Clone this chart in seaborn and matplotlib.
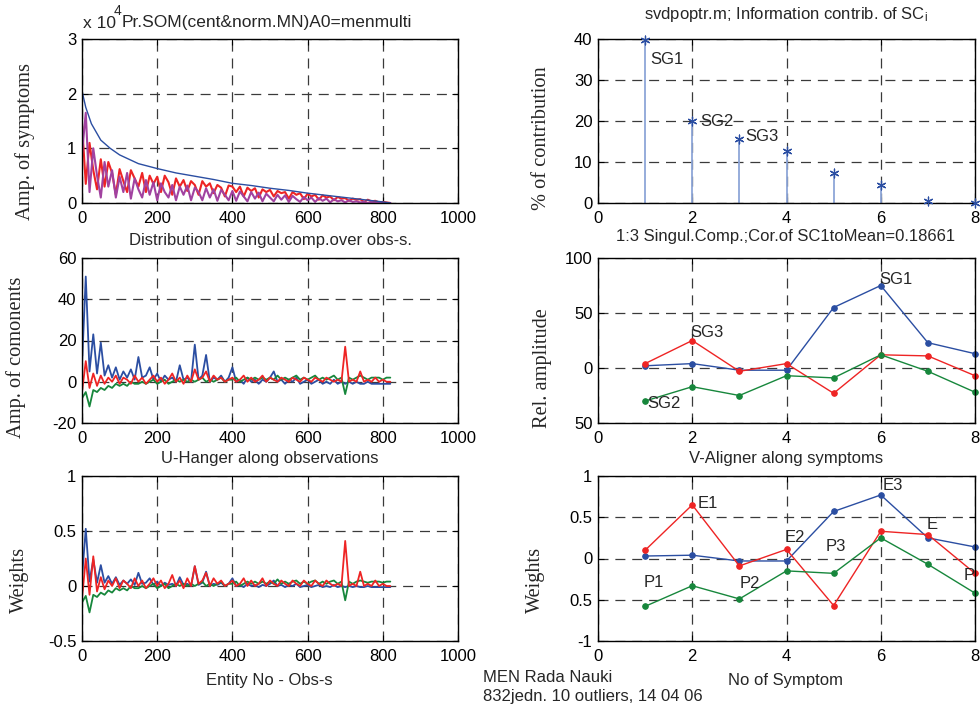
import numpy as np
import pandas as pd
import matplotlib
matplotlib.use("Agg")
import matplotlib.pyplot as plt
import seaborn as sns

sns.set_style("white")
plt.rcParams['font.family'] = ['Liberation Sans', 'DejaVu Sans']
plt.rcParams['mathtext.fontset'] = 'custom'
plt.rcParams['mathtext.rm'] = 'Liberation Sans'
plt.rcParams['mathtext.it'] = 'Liberation Sans:italic'

# ---------------- data ----------------
obs = list(range(0, 830, 10))  # observation index (83 points)

env_x = [0, 5, 10, 25, 50, 75, 100, 150, 200, 250, 300, 350, 400, 450, 500, 550, 600, 650, 700, 750, 800, 820]
env_y = [2.05, 1.9, 1.75, 1.45, 1.15, 1.0, 0.88, 0.72, 0.63, 0.55, 0.49, 0.43, 0.36, 0.32, 0.27, 0.23, 0.18, 0.14, 0.1, 0.06, 0.02, 0.0]

sym_red = [1.45, 0.35, 1.1, 0.6, 0.25, 0.8, 0.3, 0.75, 0.55, 0.15, 0.62, 0.4, 0.2, 0.6, 0.45, 0.3, 0.55, 0.2, 0.5, 0.35,
           0.48, 0.2, 0.5, 0.38, 0.15, 0.45, 0.3, 0.42, 0.22, 0.4, 0.33, 0.15, 0.4, 0.3, 0.36, 0.18, 0.33, 0.28, 0.12, 0.32,
           0.3, 0.2, 0.3, 0.12, 0.28, 0.22, 0.27, 0.1, 0.25, 0.2, 0.24, 0.12, 0.22, 0.18, 0.2, 0.08, 0.2, 0.15, 0.18, 0.07,
           0.17, 0.12, 0.15, 0.06, 0.14, 0.1, 0.12, 0.05, 0.11, 0.08, 0.09, 0.04, 0.08, 0.06, 0.07, 0.02, 0.06, 0.03, 0.04, 0.01,
           0.02, 0.01, 0.0]
sym_purple = [0.9, 1.65, 0.2, 1.0, 0.5, 0.1, 0.75, 0.3, 0.6, 0.1, 0.48, 0.2, 0.55, 0.08, 0.45, 0.25, 0.1, 0.42, 0.15, 0.38,
              0.05, 0.36, 0.2, 0.1, 0.33, 0.05, 0.3, 0.15, 0.32, 0.05, 0.28, 0.2, 0.05, 0.27, 0.1, 0.25, 0.04, 0.24, 0.15, 0.05,
              0.22, 0.04, 0.21, 0.12, 0.03, 0.2, 0.08, 0.19, 0.03, 0.17, 0.1, 0.03, 0.15, 0.06, 0.14, 0.02, 0.13, 0.07, 0.02, 0.11,
              0.05, 0.1, 0.02, 0.09, 0.04, 0.08, 0.01, 0.07, 0.03, 0.05, 0.01, 0.05, 0.02, 0.03, 0.01, 0.02, 0.0, 0.02, 0.0, 0.01,
              0.0, 0.0, 0.0]

amp_blue = [8, 51, 5, 23, 4, 19, 3, 8, 2, 7, 1, 5, 2, 6, 1, 12, 2, 3, 7, 1,
            4, 0, 3, 1, 2, 0, 8, 1, 2, 0, 18, 1, 3, 13, 0, 2, 1, 3, 0, 2,
            7, 0, 1, -1, 2, 0, 1, -1, 1, 0, 2, 5, 0, 1, -1, 1, 0, 2, -1, 0,
            1, -1, 0, 1, -1, 0, -1, 1, -1, 0, -1, 0, -1, 0, -1, -1, 0, -1, -1, -1,
            -1, -1, -1]
amp_green = [-8, -5, -12, -4, -5, -3, -4, -2, -3, -1, -2, -1, -2, 0, -1, -1, 0, -1, 0, 1,
             -1, 0, 1, -1, 0, 1, 0, 1, 0, 1, 0, 1, 2, 0, 1, 0, 1, 2, 0, 1,
             1, 2, 0, 1, 2, 1, 2, 1, 2, 1, 2, 1, 3, 1, 2, 1, 2, 3, 1, 2,
             1, 2, 3, 1, 2, 1, 2, 3, 1, 2, -6, 2, 1, 2, 3, 2, 1, 2, 2, 2,
             1, 2, 2]
amp_red = [-5, 10, -3, 4, -2, 3, -1, 2, 0, 3, -1, 2, 1, -1, 3, 0, 2, -1, 1, 3,
           0, 2, -1, 1, 4, 0, 2, -1, 3, 0, 6, 1, 2, 5, 0, 3, 1, 2, 0, 1,
           2, 0, 1, 3, 0, 2, 0, 1, 3, 0, 2, 1, 0, 2, 1, 0, 2, 1, 0, 2,
           1, 0, 2, 1, 0, 2, 1, 0, 1, 0, 17, 0, 1, 0, 5, 0, 1, 0, 2, 0,
           1, 0, 0]

w_blue = [0.08, 0.52, 0.04, 0.24, 0.03, 0.19, 0.03, 0.09, 0.02, 0.08, 0.01, 0.05, 0.02, 0.06, 0.01, 0.12, 0.02, 0.03, 0.07, 0.01,
          0.04, 0.0, 0.03, 0.01, 0.02, 0.0, 0.08, 0.01, 0.02, 0.0, 0.18, 0.01, 0.03, 0.13, 0.0, 0.02, 0.01, 0.03, 0.0, 0.02,
          0.07, 0.0, 0.01, -0.01, 0.02, 0.0, 0.01, -0.01, 0.01, 0.0, 0.02, 0.05, 0.0, 0.01, -0.01, 0.01, 0.0, 0.02, -0.01, 0.0,
          0.01, -0.01, 0.0, 0.01, -0.01, 0.0, -0.01, 0.01, -0.01, 0.0, -0.01, 0.0, -0.01, 0.0, -0.01, -0.01, 0.0, -0.01, -0.01, -0.01,
          -0.01, -0.01, -0.01]
w_green = [-0.15, -0.09, -0.24, -0.08, -0.1, -0.06, -0.08, -0.04, -0.06, -0.02, -0.04, -0.02, -0.04, 0.0, -0.02, -0.02, 0.0, -0.02, 0.0, 0.02,
           -0.02, 0.0, 0.02, -0.02, 0.0, 0.02, 0.0, 0.02, 0.0, 0.02, 0.0, 0.02, 0.04, 0.0, 0.02, 0.0, 0.02, 0.04, 0.0, 0.02,
           0.02, 0.04, 0.0, 0.02, 0.04, 0.02, 0.04, 0.02, 0.04, 0.02, 0.04, 0.02, 0.06, 0.02, 0.04, 0.02, 0.04, 0.05, 0.02, 0.04,
           0.02, 0.04, 0.05, 0.02, 0.04, 0.02, 0.04, 0.05, 0.02, 0.04, -0.13, 0.04, 0.02, 0.04, 0.05, 0.04, 0.03, 0.04, 0.04, 0.04,
           0.03, 0.04, 0.04]
w_red = [-0.12, 0.25, -0.08, 0.27, -0.05, 0.08, -0.03, 0.05, 0.0, 0.07, -0.02, 0.05, 0.02, -0.02, 0.07, 0.0, 0.05, -0.02, 0.02, 0.07,
         0.0, 0.05, -0.02, 0.02, 0.1, 0.0, 0.05, -0.02, 0.07, 0.0, 0.18, 0.02, 0.05, 0.12, 0.0, 0.07, 0.02, 0.05, 0.0, 0.02,
         0.05, 0.0, 0.02, 0.07, 0.0, 0.05, 0.0, 0.02, 0.07, 0.0, 0.05, 0.02, 0.0, 0.05, 0.02, 0.0, 0.05, 0.02, 0.0, 0.05,
         0.02, 0.0, 0.05, 0.02, 0.0, 0.05, 0.02, 0.0, 0.02, 0.0, 0.41, 0.0, 0.02, 0.0, 0.13, 0.0, 0.02, 0.0, 0.05, 0.0,
         0.02, 0.0, 0.0]

sc = [1, 2, 3, 4, 5, 6, 7, 8]
contrib = [39.8, 20.0, 15.7, 12.7, 7.2, 4.5, 0.4, 0.0]

symptom = [1, 2, 3, 4, 5, 6, 7, 8]
rel_blue = [2, 4, -2, -2, 55, 75, 23, 13]
rel_red = [4, 25, -3, 4, -23, 12, 11, -7]
rel_green = [-30, -17, -25, -7, -9, 12, -3, -22]

v_blue = [0.03, 0.04, -0.03, -0.03, 0.57, 0.77, 0.25, 0.14]
v_red = [0.10, 0.65, -0.09, 0.11, -0.57, 0.33, 0.29, -0.18]
v_green = [-0.58, -0.33, -0.49, -0.15, -0.18, 0.25, -0.07, -0.42]

# ---------------- style ----------------
BLUE = '#2b4ea2'
RED = '#ee2424'
GREEN = '#17873c'
PURPLE = '#a142a0'
STEM = '#8ea6d8'
W, H = 980, 705
SANS = 12
SERIF = ['Liberation Serif', 'DejaVu Serif']

fig = plt.figure(figsize=(9.8, 7.05), dpi=100)


def add_ax(l, t, r, b):
    return fig.add_axes([l / W, 1 - b / H, (r - l) / W, (b - t) / H])


def style(ax, xlim, ylim, xt, yt, ytl=None):
    ax.set_xlim(*xlim)
    ax.set_ylim(*ylim)
    ax.set_xticks(xt)
    ax.set_yticks(yt)
    ax.set_xticklabels([str(v) for v in xt])
    if ytl is None:
        ytl = [('%g' % v) for v in yt]
    ax.set_yticklabels(ytl)
    ax.tick_params(direction='in', length=4, width=0.8, labelsize=SANS, top=True, right=True,
                   bottom=True, left=True, colors='black')
    ax.tick_params(axis='x', pad=6)
    ax.tick_params(axis='y', pad=4)
    ax.grid(True, linestyle=(0, (8, 5.5)), color='#3a3a3a', linewidth=0.9)
    for s in ax.spines.values():
        s.set_visible(True)
        s.set_color('black')
        s.set_linewidth(1.0)
    ax.set_xlabel('')
    ax.set_ylabel('')


def ftext(x, y, s, ha='center', va='center', size=SANS, family=None, rot=0):
    kw = {}
    if family is not None:
        kw['family'] = family
    fig.text(x / W, 1 - y / H, s, ha=ha, va=va, fontsize=size, rotation=rot, **kw)


def line(ax, x, y, color, lw=1.0, marker=None, ms=4):
    sns.lineplot(x=x, y=y, ax=ax, color=color, linewidth=lw, marker=marker, markersize=ms,
                 markeredgecolor=color, estimator=None, sort=False, legend=False)


# top-left
ax1 = add_ax(82, 39, 458, 203)
line(ax1, obs, sym_red, RED, 1.5)
line(ax1, obs, sym_purple, PURPLE, 1.5)
line(ax1, env_x, env_y, BLUE, 1.0)
style(ax1, (0, 1000), (0, 3), [0, 200, 400, 600, 800, 1000], [0, 1, 2, 3])
ftext(83, 23, 'x 10', ha='left', size=12.5)
ftext(114, 11, '4', ha='left', size=10)
ftext(122, 23, 'Pr.SOM(cent&norm.MN)A0=menmulti', ha='left', size=12.5)
ftext(25, 142, 'Amp. of symptoms', family=SERIF, size=14.7, rot=90)

# top-right
ax2 = add_ax(598, 39, 975, 203)
ax2.vlines(sc, 0, contrib, color=STEM, linewidth=1.3, zorder=2)
sns.scatterplot(x=sc, y=contrib, ax=ax2, marker=(6, 2, 0), s=40, color=BLUE, linewidth=0.9,
                edgecolor=BLUE, zorder=3, legend=False, clip_on=False)
style(ax2, (0, 8), (0, 40), [0, 2, 4, 6, 8], [0, 10, 20, 30, 40])
ax2.text(1.12, 34.9, 'SG1', fontsize=SANS, va='center', ha='left')
ax2.text(2.17, 20.0, 'SG2', fontsize=SANS, va='center', ha='left')
ax2.text(3.12, 16.3, 'SG3', fontsize=SANS, va='center', ha='left')
ftext(786, 14, r'svdpoptr.m; Information contrib. of SC$_{\mathrm{i}}$')
ftext(542, 138, '% of contribution', family=SERIF, size=14.7, rot=90)

# middle-left
ax3 = add_ax(82, 258, 458, 423)
line(ax3, obs, amp_blue, BLUE, 1.3)
line(ax3, obs, amp_green, GREEN, 1.3)
line(ax3, obs, amp_red, RED, 1.3)
style(ax3, (0, 1000), (-20, 60), [0, 200, 400, 600, 800, 1000], [-20, 0, 20, 40, 60])
ftext(270, 240, 'Distribution of singul.comp.over obs-s.')
ftext(270, 458, 'U-Hanger along observations')
ftext(16, 357, 'Amp. of comonents', family=SERIF, size=14.7, rot=90)

# middle-right
ax4 = add_ax(598, 258, 975, 423)
line(ax4, symptom, rel_blue, BLUE, 1.0, marker='o', ms=4)
line(ax4, symptom, rel_red, RED, 1.0, marker='o', ms=4)
line(ax4, symptom, rel_green, GREEN, 1.0, marker='o', ms=4)
for l in ax4.lines:
    l.set_clip_on(False)
style(ax4, (0, 8), (-50, 100), [0, 2, 4, 6, 8], [-50, 0, 50, 100], ['50', '0', '50', '100'])
ax4.text(5.97, 80, 'SG1', fontsize=SANS, va='center', ha='left')
ax4.text(1.95, 32.5, 'SG3', fontsize=SANS, va='center', ha='left')
ax4.text(1.04, -32, 'SG2', fontsize=SANS, va='center', ha='left')
ftext(786, 237, '1:3 Singul.Comp.;Cor.of SC1toMean=0.18661')
ftext(786, 459, 'V-Aligner along symptoms')
ftext(543, 368, 'Rel. amplitude', family=SERIF, size=14.7, rot=90)

# bottom-left
ax5 = add_ax(82, 476, 458, 641)
line(ax5, obs, w_blue, BLUE, 1.3)
line(ax5, obs, w_green, GREEN, 1.3)
line(ax5, obs, w_red, RED, 1.3)
style(ax5, (0, 1000), (-0.5, 1), [0, 200, 400, 600, 800, 1000], [-0.5, 0, 0.5, 1])
ftext(269, 681, 'Entity No - Obs-s')
ftext(19, 580, 'Weights', family=SERIF, size=14.7, rot=90)

# bottom-right
ax6 = add_ax(598, 476, 975, 641)
line(ax6, symptom, v_blue, BLUE, 1.0, marker='o', ms=4)
line(ax6, symptom, v_red, RED, 1.0, marker='o', ms=4)
line(ax6, symptom, v_green, GREEN, 1.0, marker='o', ms=4)
for l in ax6.lines:
    l.set_clip_on(False)
style(ax6, (0, 8), (-1, 1), [0, 2, 4, 6, 8], [-1, -0.5, 0, 0.5, 1], ['-1', '0.5', '0', '0.5', '1'])
for lab, x, y in [('E1', 2.12, 0.67), ('E3', 6.03, 0.89), ('E', 6.98, 0.41), ('E2', 3.97, 0.26),
                  ('P3', 4.82, 0.15), ('P1', 0.96, -0.29), ('P2', 3.01, -0.30), ('P', 7.75, -0.2)]:
    ax6.text(x, y, lab, fontsize=SANS, va='center', ha='left')
ftext(785, 681, 'No of Symptom')
ftext(535, 580, 'Weights', family=SERIF, size=14.7, rot=90)

ftext(483, 677, 'MEN Rada Nauki', ha='left')
ftext(483, 697, '832jedn. 10 outliers, 14 04 06', ha='left')

fig.savefig('out.png', dpi=100, facecolor='white')
